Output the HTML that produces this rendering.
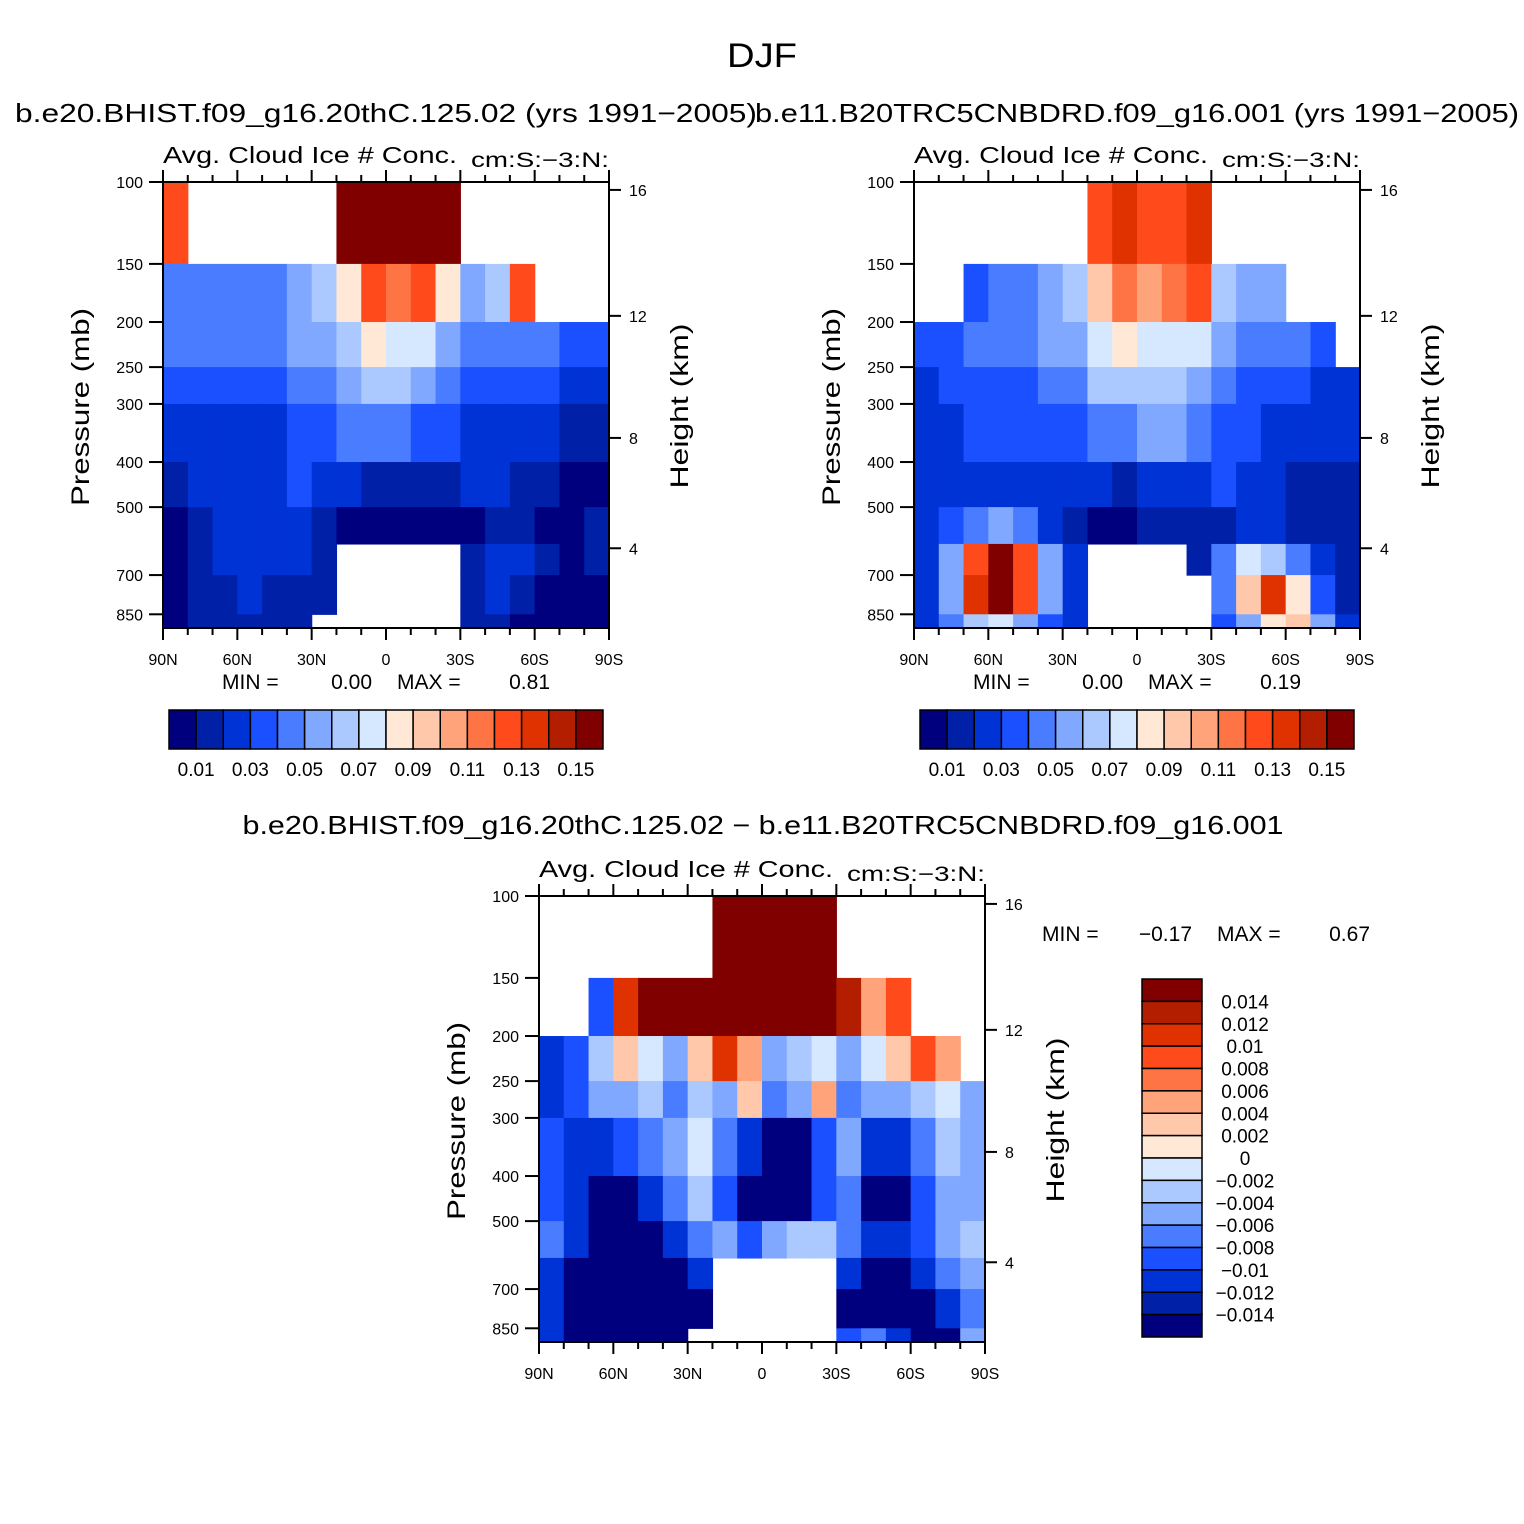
<!DOCTYPE html>
<html><head><meta charset="utf-8">
<style>
html,body{margin:0;padding:0;background:#fff;}
svg{display:block;font-family:"Liberation Sans",sans-serif;}
</style></head>
<body>
<svg id="chart" width="1524" height="1524" viewBox="0 0 1524 1524" xmlns="http://www.w3.org/2000/svg">
<rect x="0" y="0" width="1524" height="1524" fill="#fff"/>
<text x="762" y="67" font-size="34" text-anchor="middle" textLength="70" lengthAdjust="spacingAndGlyphs">DJF</text>
<text x="386" y="122" font-size="26" text-anchor="middle" textLength="742" lengthAdjust="spacingAndGlyphs">b.e20.BHIST.f09_g16.20thC.125.02 (yrs 1991−2005)</text>
<text x="1137" y="122" font-size="26" text-anchor="middle" textLength="764" lengthAdjust="spacingAndGlyphs">b.e11.B20TRC5CNBDRD.f09_g16.001 (yrs 1991−2005)</text>
<text x="763" y="834" font-size="26" text-anchor="middle" textLength="1041" lengthAdjust="spacingAndGlyphs">b.e20.BHIST.f09_g16.20thC.125.02 − b.e11.B20TRC5CNBDRD.f09_g16.001</text>
<g id="layer"></g>
</svg>
<script>
// ---- data ----
const latLabels = ["90N","60N","30N","0","30S","60S","90S"];
const pressureTicks = [100,150,200,250,300,400,500,700,850];
const heightTicks = [16,12,8,4];
const heightTickPressure = [104,194,355,613];
const pressureBins = [100,150,200,250,300,400,500,600,700,850,910];
const absLevels = [0.01,0.02,0.03,0.04,0.05,0.06,0.07,0.08,0.09,0.10,0.11,0.12,0.13,0.14,0.15];
const absLabels = ["0.01","0.03","0.05","0.07","0.09","0.11","0.13","0.15"];
const diffLevels = [-0.014,-0.012,-0.01,-0.008,-0.006,-0.004,-0.002,0,0.002,0.004,0.006,0.008,0.01,0.012,0.014];
const diffLabels = ["0.014","0.012","0.01","0.008","0.006","0.004","0.002","0","−0.002","−0.004","−0.006","−0.008","−0.01","−0.012","−0.014"];
const palette = ["#00007f","#0020a8","#0033d6","#1a50ff","#4a7cff","#80a8ff","#abc8ff","#d5e8ff","#ffe9d6","#ffc8ab","#ffa37a","#ff7444","#ff4a1c","#e03200","#b31e00","#800000"];
const N = null;
const p1Values = [
 [0.12,N,N,N,N,N,N,0.2,0.2,0.2,0.2,0.2,N,N,N,N,N,N],
 [0.04,0.04,0.04,0.04,0.04,0.05,0.06,0.08,0.12,0.11,0.12,0.08,0.05,0.06,0.12,N,N,N],
 [0.04,0.04,0.04,0.04,0.04,0.05,0.05,0.06,0.08,0.07,0.07,0.05,0.04,0.04,0.04,0.04,0.03,0.03],
 [0.03,0.03,0.03,0.03,0.03,0.04,0.04,0.05,0.06,0.06,0.05,0.04,0.03,0.03,0.03,0.03,0.02,0.02],
 [0.02,0.02,0.02,0.02,0.02,0.03,0.03,0.04,0.04,0.04,0.03,0.03,0.02,0.02,0.02,0.02,0.01,0.01],
 [0.01,0.02,0.02,0.02,0.02,0.03,0.02,0.02,0.01,0.01,0.01,0.01,0.02,0.02,0.01,0.01,0.005,0.005],
 [0.005,0.01,0.02,0.02,0.02,0.02,0.01,0.005,0.005,0.005,0.005,0.005,0.005,0.01,0.01,0.005,0.005,0.01],
 [0.005,0.01,0.02,0.02,0.02,0.02,0.01,N,N,N,N,N,0.01,0.02,0.02,0.01,0.005,0.01],
 [0.005,0.01,0.01,0.02,0.01,0.01,0.01,N,N,N,N,N,0.01,0.02,0.01,0.005,0.005,0.005],
 [0.005,0.01,0.01,0.01,0.01,0.01,N,N,N,N,N,N,0.01,0.01,0.005,0.005,0.005,0.005]
];
const p2Values = [
 [N,N,N,N,N,N,N,0.12,0.13,0.12,0.12,0.13,N,N,N,N,N,N],
 [N,N,0.03,0.04,0.04,0.05,0.06,0.09,0.11,0.10,0.11,0.12,0.06,0.05,0.05,N,N,N],
 [0.03,0.03,0.04,0.04,0.04,0.05,0.05,0.07,0.08,0.07,0.07,0.07,0.05,0.04,0.04,0.04,0.03,N],
 [0.02,0.03,0.03,0.03,0.03,0.04,0.04,0.06,0.06,0.06,0.06,0.05,0.04,0.03,0.03,0.03,0.02,0.02],
 [0.02,0.02,0.03,0.03,0.03,0.03,0.03,0.04,0.04,0.05,0.05,0.04,0.03,0.03,0.02,0.02,0.02,0.02],
 [0.02,0.02,0.02,0.02,0.02,0.02,0.02,0.02,0.01,0.02,0.02,0.02,0.03,0.02,0.02,0.01,0.01,0.01],
 [0.02,0.03,0.04,0.05,0.04,0.02,0.01,0.005,0.005,0.01,0.01,0.01,0.01,0.02,0.02,0.01,0.01,0.01],
 [0.02,0.05,0.12,0.15,0.12,0.05,0.02,N,N,N,N,0.01,0.04,0.07,0.06,0.04,0.02,0.01],
 [0.02,0.05,0.13,0.16,0.12,0.05,0.02,N,N,N,N,N,0.04,0.09,0.13,0.08,0.03,0.01],
 [0.02,0.04,0.06,0.07,0.05,0.03,0.02,N,N,N,N,N,0.03,0.05,0.08,0.09,0.05,0.02]
];
const p3Values = [
 [N,N,N,N,N,N,N,0.02,0.02,0.02,0.02,0.02,N,N,N,N,N,N],
 [N,N,-0.01,0.01,0.015,0.015,0.02,0.02,0.02,0.02,0.02,0.015,0.012,0.005,0.008,N,N,N],
 [-0.012,-0.01,-0.004,0.002,-0.002,-0.006,0.002,0.01,0.004,-0.006,-0.004,-0.002,-0.006,-0.002,0.002,0.008,0.004,N],
 [-0.012,-0.01,-0.006,-0.006,-0.004,-0.008,-0.004,-0.006,0.002,-0.008,-0.006,0.004,-0.008,-0.006,-0.006,-0.004,-0.002,-0.006],
 [-0.01,-0.012,-0.012,-0.01,-0.008,-0.006,-0.002,-0.008,-0.012,-0.015,-0.015,-0.01,-0.006,-0.012,-0.012,-0.008,-0.004,-0.006],
 [-0.01,-0.012,-0.015,-0.015,-0.012,-0.008,-0.004,-0.01,-0.015,-0.015,-0.015,-0.01,-0.008,-0.015,-0.015,-0.01,-0.006,-0.006],
 [-0.008,-0.012,-0.015,-0.015,-0.015,-0.012,-0.008,-0.006,-0.01,-0.006,-0.004,-0.004,-0.008,-0.012,-0.012,-0.01,-0.006,-0.004],
 [-0.012,-0.015,-0.015,-0.015,-0.015,-0.015,-0.012,N,N,N,N,N,-0.012,-0.015,-0.015,-0.012,-0.008,-0.006],
 [-0.012,-0.015,-0.015,-0.015,-0.015,-0.015,-0.015,N,N,N,N,N,-0.015,-0.015,-0.015,-0.015,-0.012,-0.008],
 [-0.012,-0.015,-0.015,-0.015,-0.015,-0.015,N,N,N,N,N,N,-0.01,-0.008,-0.012,-0.015,-0.015,-0.006]
];
const minMax1 = ["0.00","0.81"];
const minMax2 = ["0.00","0.19"];
const minMax3 = ["−0.17","0.67"];

// ---- drawing ----
const NS="http://www.w3.org/2000/svg";
const layer=document.getElementById('layer');
function mk(tag,attrs,parent){const e=document.createElementNS(NS,tag);for(const k in attrs)e.setAttribute(k,attrs[k]);(parent||layer).appendChild(e);return e;}
function txt(x,y,s,size,anchor,parent,len){const a={x:x,y:y,'font-size':size,'text-anchor':anchor||'middle'};if(len){a.textLength=len;a.lengthAdjust='spacingAndGlyphs';}const t=mk('text',a,parent);t.textContent=s;return t;}
function classify(v,levels){let c=0;for(const l of levels){if(v>=l-1e-9)c++;}return c;}

function drawPanel(id,x0,y0,vals,levels){
  const W=446,H=446,K=202;
  const xs=lat=>x0+(90-lat)/180*W;
  const ys=p=>Math.min(y0+H, y0+K*Math.log(p/100));
  const g=mk('g',{});
  
  
  const cells=mk('g',{},g);
  
  
  for(let r=0;r<vals.length;r++){
    for(let c=0;c<vals[r].length;c++){
      const v=vals[r][c]; if(v===null)continue;
      const xa=xs(90-c*10), xb=xs(80-c*10);
      const ya=ys(pressureBins[r]), yb=ys(pressureBins[r+1]);
      const rc=mk('rect',{x:xa,y:ya,width:xb-xa+0.6,height:yb-ya+0.6,fill:palette[classify(v,levels)]},cells);
      
      
    }
  }
  const fr=mk('rect',{x:x0,y:y0,width:W,height:H,fill:'none',stroke:'#000','stroke-width':2},g);
  
  
  for(let i=0;i<=18;i++){
    const x=xs(90-i*10), major=i%3===0, L=major?12:7;
    mk('line',{x1:x,y1:y0+H,x2:x,y2:y0+H+L,stroke:'#000','stroke-width':2},g);
    mk('line',{x1:x,y1:y0,x2:x,y2:y0-L,stroke:'#000','stroke-width':2},g);
  }
  latLabels.forEach((s,i)=>{const t=txt(xs(90-i*30),y0+H+37,s,16,'middle',g);
    });
  pressureTicks.forEach(p=>{const y=ys(p);
    mk('line',{x1:x0-14,y1:y,x2:x0,y2:y,stroke:'#000','stroke-width':2},g);
    const t=txt(x0-20,y+6,String(p),16,'end',g);
    });
  heightTicks.forEach((h,i)=>{const y=ys(heightTickPressure[i]);
    mk('line',{x1:x0+W,y1:y,x2:x0+W+12,y2:y,stroke:'#000','stroke-width':2},g);
    const t=txt(x0+W+20,y+6,String(h),16,'start',g);
    });
  let t=txt(0,0,'Pressure (mb)',25,'middle',g,198);
  t.setAttribute('transform',`translate(${x0-74},${y0+225}) rotate(-90)`);
  
  t=txt(0,0,'Height (km)',25,'middle',g,165);
  t.setAttribute('transform',`translate(${x0+W+79},${y0+224}) rotate(-90)`);
  
  t=txt(x0,y0-19,'Avg. Cloud Ice # Conc.',23,'start',g,294);
  
  t=txt(x0+W,y0-15,'cm:S:−3:N:',21,'end',g,138);
  
}
function minmax(id,x,y,mm){
  const g=mk('g',{});
  
  txt(x,y,'MIN =',21,'start',g);txt(x+150,y,mm[0],21,'end',g);
  txt(x+175,y,'MAX =',21,'start',g);txt(x+328,y,mm[1],21,'end',g);
}
function hbar(id,x0,y0){
  const g=mk('g',{});
  
  const w=434/16;
  palette.forEach((c,i)=>{const r=mk('rect',{x:x0+i*w,y:y0,width:w,height:39,fill:c,stroke:'#000','stroke-width':1.5},g);
    });
  absLabels.forEach((s,i)=>{const t=txt(x0+(1+2*i)*w,y0+66,s,19,'middle',g);
    });
}
drawPanel('panel1',163,182,p1Values,absLevels);
drawPanel('panel2',914,182,p2Values,absLevels);
drawPanel('panel3',539,896,p3Values,diffLevels);
minmax('panel1',222,689,minMax1);
minmax('panel2',973,689,minMax2);
minmax('panel3',1042,941,minMax3);
hbar('panel1',169,710);
hbar('panel2',920,710);
(function(){
  const g=mk('g',{});
  
  const h=358/16;
  for(let i=0;i<16;i++){
    const r=mk('rect',{x:1142,y:979+i*h,width:60,height:h,fill:palette[15-i],stroke:'#000','stroke-width':1.5},g);
    
  }
  diffLabels.forEach((s,i)=>{const t=txt(1245,979+(i+1)*h+7,s,19,'middle',g);
    });
})();
</script>
</body></html>
